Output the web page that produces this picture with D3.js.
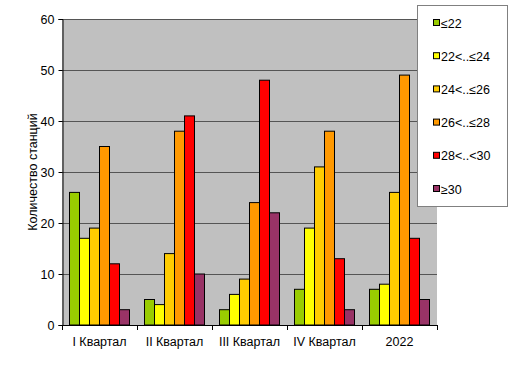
<!DOCTYPE html>
<html><head><meta charset="utf-8">
<script src="https://cdn.jsdelivr.net/npm/d3@7"></script>
<style>body{margin:0;background:#fff}svg{display:block;font-family:"Liberation Sans",Arial,sans-serif}</style>
</head><body>
<script>
const categories = ["I Квартал","II Квартал","III Квартал","IV Квартал","2022"];
const seriesNames = ["≤22","22<..≤24","24<..≤26","26<..≤28","28<..<30","≥30"];
const seriesColors = ["#99CC00","#FFFF00","#FFCC00","#FF9900","#FF0000","#993366"];
const s1 = [26,5,3,7,7];
const s2 = [17,4,6,19,8];
const s3 = [19,14,9,31,26];
const s4 = [35,38,24,38,49];
const s5 = [12,41,48,13,17];
const s6 = [3,10,22,3,5];
const series = [s1,s2,s3,s4,s5,s6];
const yTicks = [0,10,20,30,40,50,60];
const yLabel = "Количество станций";

const W=520,H=366;
const m={l:62,r:437,t:19,b:325};
const svg=d3.select("body").append("svg").attr("width",W).attr("height",H);
const x0=d3.scaleBand().domain(categories).range([m.l,m.r]).paddingInner(0.2).paddingOuter(0.1);
const x1=d3.scaleBand().domain(d3.range(6)).range([0,x0.bandwidth()]);
const y=d3.scaleLinear().domain([0,60]).range([m.b,m.t]);

svg.append("rect").attr("x",m.l).attr("y",m.t).attr("width",m.r-m.l).attr("height",m.b-m.t).attr("fill","#C0C0C0");
svg.append("g").selectAll("line").data(yTicks.filter(d=>d>0)).join("line")
 .attr("x1",m.l).attr("x2",m.r).attr("y1",d=>y(d)+0.5).attr("y2",d=>y(d)+0.5).attr("stroke","#555").attr("stroke-width",1);

const g=svg.append("g");
categories.forEach((c,ci)=>{
  series.forEach((s,si)=>{
    g.append("rect").attr("x",x0(c)+x1(si)).attr("y",y(s[ci])).attr("width",x1.bandwidth()).attr("height",y(0)-y(s[ci]))
     .attr("fill",seriesColors[si]).attr("stroke","#000").attr("stroke-width",1);
  });
});

const ya=svg.append("g").attr("transform",`translate(${m.l+0.5},0)`).call(d3.axisLeft(y).tickValues(yTicks).tickSize(4).tickPadding(4));
ya.selectAll("text").attr("font-size",12.5).attr("fill","#000").attr("font-family","Liberation Sans, Arial");
ya.selectAll("line,path").attr("stroke","#000");
// x axis
svg.append("line").attr("x1",m.l).attr("x2",m.r).attr("y1",m.b+0.5).attr("y2",m.b+0.5).attr("stroke","#000");
const bounds=categories.map(c=>x0(c)-x0.step()*x0.paddingInner()/2).concat([m.r]);
svg.append("g").selectAll("line").data(bounds).join("line").attr("x1",d=>Math.round(d)+0.5).attr("x2",d=>Math.round(d)+0.5)
 .attr("y1",m.b).attr("y2",m.b+5).attr("stroke","#000");
svg.append("g").selectAll("text").data(categories).join("text").attr("x",c=>x0(c)+x0.bandwidth()/2).attr("y",346)
 .attr("text-anchor","middle").attr("font-size",12.5).text(d=>d);
svg.append("text").attr("transform",`translate(37,${(m.t+m.b)/2}) rotate(-90)`).attr("text-anchor","middle").attr("font-size",12.5).text(yLabel);

// legend
const lg=svg.append("g");
lg.append("rect").attr("x",417.5).attr("y",5.5).attr("width",90).attr("height",201).attr("fill","#fff").attr("stroke","#808080");
seriesNames.forEach((n,i)=>{
  const yy=23+i*33.2;
  lg.append("rect").attr("x",433.5).attr("y",yy-3.5).attr("width",6).attr("height",6).attr("fill",seriesColors[i]).attr("stroke","#000");
  lg.append("text").attr("x",441).attr("y",yy+4.5).attr("font-size",12.5).text(n);
});
</script>
</body></html>
